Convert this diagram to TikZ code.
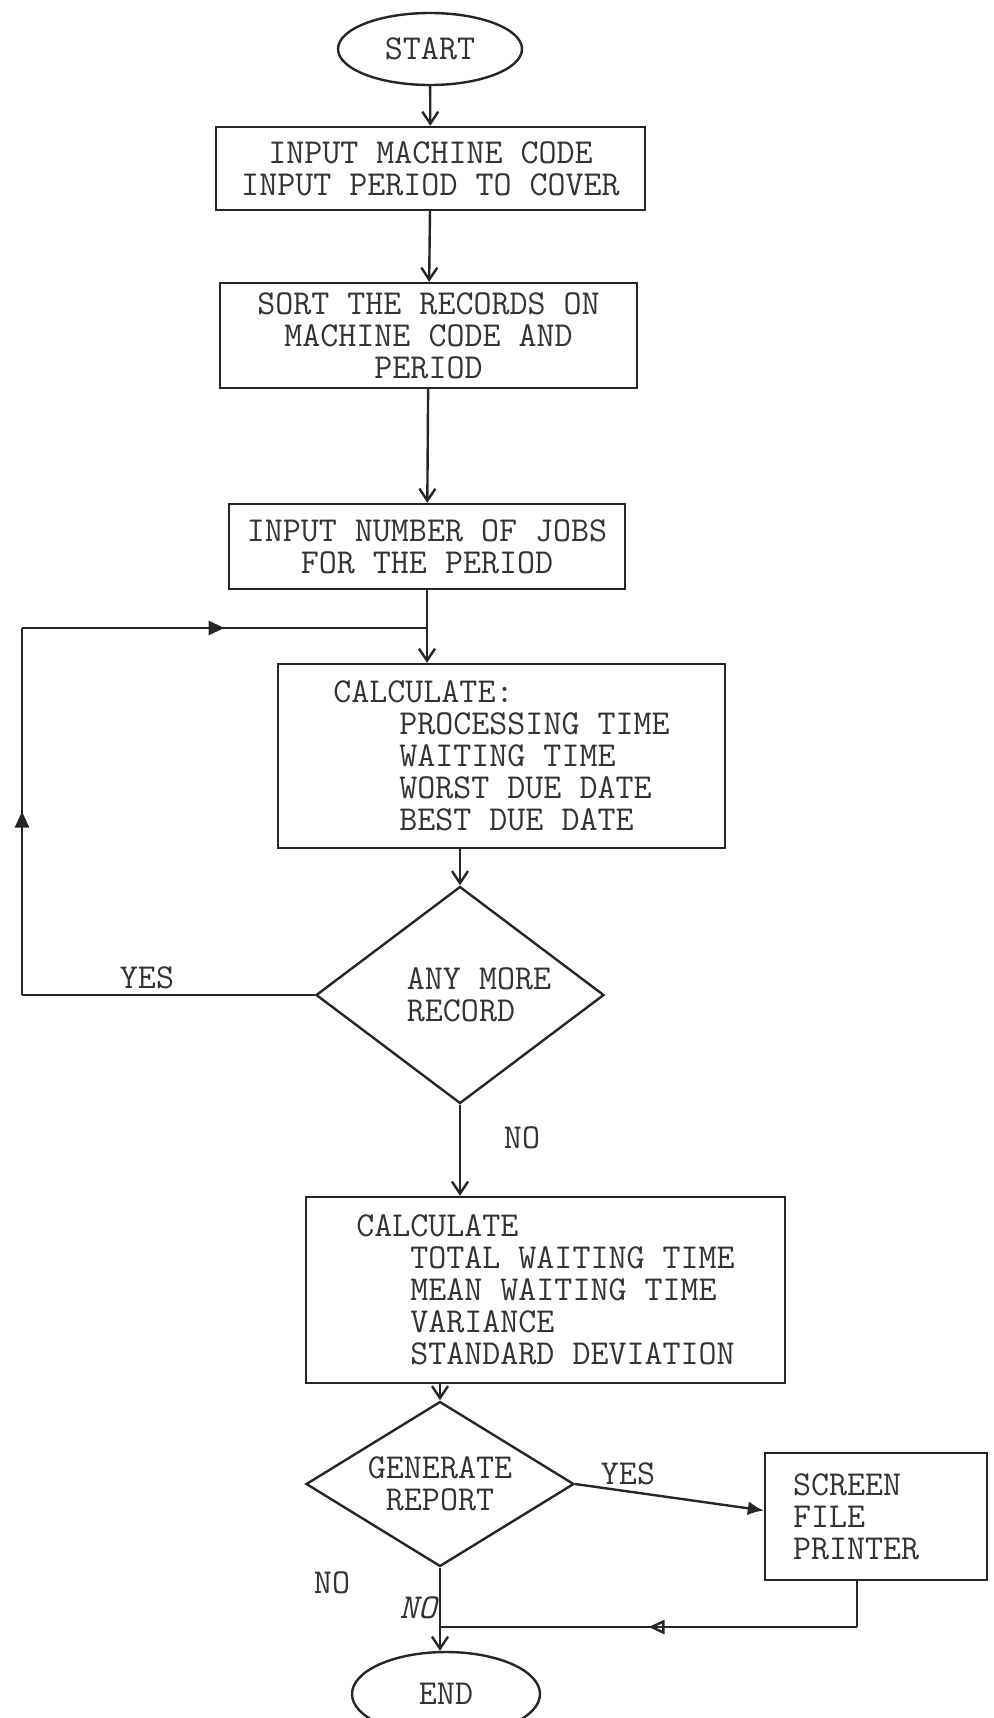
\documentclass[tikz,border=0pt]{standalone}
\usepackage{tikz}
\usetikzlibrary{shapes.geometric,arrows.meta,decorations.markings}

\tikzset{
	txt/.style={text=black!80, font=\fontsize{17.5pt}{16pt}\selectfont\ttfamily},
	box/.style={txt, draw=black!85, line width=1.2pt, rectangle, inner sep=0pt, align=center},
	term/.style={txt, draw=black!85, line width=1.2pt, ellipse, inner sep=0pt},
	test/.style={txt, draw=black!85, line width=1.2pt, diamond, inner sep=0pt, align=center},
	line/.style={draw=black!85, line width=1.2pt},
	link/.style={line, -{Straight Barb[length=6pt,width=8pt]}},
	midtip/.style={line, postaction={decorate}, decoration={markings, mark=at position 0.5 with {\arrow{Triangle[length=8pt,width=7pt]}}}},
	midopen/.style={line, postaction={decorate}, decoration={markings, mark=at position 0.5 with {\arrow{Triangle[open,length=8pt,width=7pt]}}}}
}

\begin{document}
\begin{tikzpicture}[x=0.5pt, y=-0.5pt]
				\useasboundingbox (0,0) rectangle (994,1718);
				\coordinate (lb) at (22,995);
				\coordinate (lt) at (22,628);
				\coordinate (ret) at (857,1627);
				\node[term, minimum width=92pt, minimum height=36pt] (start) at (430,49) {START};
				\node[box, minimum width=214.5pt, minimum height=41.5pt] (inp) at (430.5,168.5) {INPUT MACHINE CODE\\INPUT PERIOD TO COVER};
				\node[box, minimum width=208.5pt, minimum height=52.5pt] (sort) at (428.5,335.5) {SORT THE RECORDS ON\\MACHINE CODE AND\\PERIOD};
				\node[box, minimum width=198pt, minimum height=42.5pt] (jobs) at (427,546.5) {INPUT NUMBER OF JOBS\\FOR THE PERIOD};
				\node[box, align=left, minimum width=223.5pt, minimum height=92pt] (calc) at (501.5,756) {CALCULATE:\\\hspace*{33pt}PROCESSING TIME\\\hspace*{33pt}WAITING TIME\\\hspace*{33pt}WORST DUE DATE\\\hspace*{33pt}BEST DUE DATE};
				\node[test, aspect=1.33, align=left, minimum width=144pt, minimum height=108.5pt] (more) at (460,995) {\hspace*{19pt}ANY MORE\\\hspace*{19pt}RECORD};
				\node[box, align=left, minimum width=239.5pt, minimum height=93pt] (stat) at (545.5,1290) {CALCULATE\\\hspace*{27pt}TOTAL WAITING TIME\\\hspace*{27pt}MEAN WAITING TIME\\\hspace*{27pt}VARIANCE\\\hspace*{27pt}STANDARD DEVIATION};
				\node[test, aspect=1.62, minimum width=134pt, minimum height=82.5pt] (gen) at (440,1484) {GENERATE\\REPORT};
				\node[box, align=left, text width=83pt, inner xsep=14pt, minimum height=63.5pt] (out) at (876,1516.5) {SCREEN\\FILE\\PRINTER};
				\node[term, minimum width=94pt, minimum height=42pt] (stop) at (446,1694) {END};
				\draw[link] (start) -- (inp);
				\draw[link] (inp) -- (sort);
				\draw[link] (sort) -- (jobs);
				\draw[link] (jobs.south) -- (jobs.south |- calc.north);
				\draw[link] (calc.south -| more.north) -- (more.north);
				\draw[line] (more.west) -- (lb);
				\draw[midtip] (lb) -- (lt);
				\draw[midtip] (lt) -- (jobs.south |- lt);
				\draw[link] (more.south) -- (more.south |- stat.north);
				\draw[link] (stat.south -| gen.north) -- (gen.north);
				\draw[line, -{Latex[length=8pt,width=7pt]}] (gen.east) -- ([yshift=3pt]out.west);
				\draw[line] (out.south -| ret) -- (ret);
				\draw[midopen] (ret) -- (gen.south |- ret);
				\draw[link] (gen.south) -- (gen.south |- stop.north);
				\node[txt] (yesa) at (147,978) {YES};
				\node[txt] (noa) at (522,1138) {NO};
				\node[txt] (yesb) at (628,1474) {YES};
				\node[txt] (nob) at (332,1583) {NO};
				\node[txt, font=\fontsize{17.5pt}{16pt}\selectfont\ttfamily\itshape] (noc) at (418,1608) {NO};
			\end{tikzpicture}
\end{document}
